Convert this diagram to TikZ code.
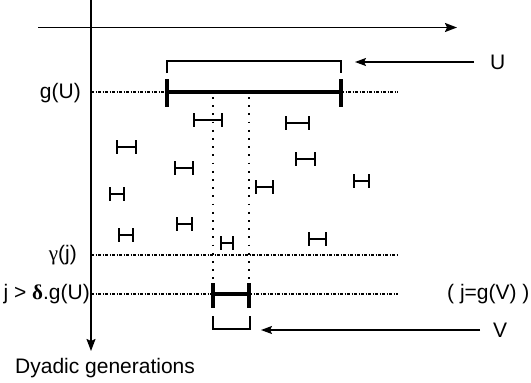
\documentclass[tikz,border=0pt]{standalone}
\usepackage{fontspec}
\setmainfont{Liberation Sans}
\newfontfamily\grkfont{Liberation Serif}
\usetikzlibrary{arrows.meta}
\newcommand\smallival[3]{%
  \draw[ivalline] (#1,#3-7) -- (#1,#3+7) (#1,#3) -- (#2,#3) (#2,#3-7) -- (#2,#3+7);}
\begin{document}
\begin{tikzpicture}[x=1pt,y=-1pt,
  lbl/.style={inner sep=0pt, font=\fontsize{21}{25}\selectfont},
  axisline/.style={line width=1.6pt},
  axishead/.style={-{Stealth[length=12pt,width=9pt,inset=2pt]}},
  ptrhead/.style={line width=1.6pt,-{Stealth[length=11pt,width=8pt,inset=2pt]}},
  dashdotline/.style={line width=1.2pt, dash pattern=on 3pt off 1.5pt on 1pt off 1.5pt},
  dotvline/.style={line width=1.8pt, dash pattern=on 1.8pt off 6.4pt},
  ivalline/.style={line width=2pt},
  bigival/.style={line width=4pt},
  bigtick/.style={line width=3.4pt},
  bracketline/.style={line width=1.4pt},
]
\useasboundingbox (0,0) rectangle (531,383);

% axes
\coordinate (vtop) at (91,0);
\coordinate (vbot) at (91,351);
\coordinate (hleft) at (38,27.5);
\coordinate (hright) at (457,27.5);
\draw[axisline,axishead] (vtop) -- (vbot);
\draw[axisline,axishead] (hleft) -- (hright);

% U interval
\coordinate (uL) at (167,92);
\coordinate (uR) at (341,92);
\draw[dashdotline] (91,92) -- (uL);
\draw[dashdotline] (uR) -- (398,92);
\draw[bigival] (uL) -- (uR);
\draw[bigtick] (167,79) -- (167,107);
\draw[bigtick] (341,79) -- (341,107);
\draw[bracketline] (167,73) -- (167,61) -- (341,61) -- (341,73);

% gamma line
\draw[dashdotline] (91,255) -- (398,255);

% V interval
\coordinate (vL) at (213,294);
\coordinate (vR) at (249,294);
\draw[dashdotline] (91,294) -- (vL);
\draw[dashdotline] (vR) -- (398,294);
\draw[bigival] (vL) -- (vR);
\draw[bigtick] (213,283) -- (213,308);
\draw[bigtick] (249,283) -- (249,308);
\draw[bracketline] (213,316) -- (213,329) -- (250,329) -- (250,316);

% dotted verticals
\draw[dotvline] (213,97) -- (213,283);
\draw[dotvline] (249,97) -- (249,283);

% small intervals
\smallival{194}{222}{120}
\smallival{286}{309}{123}
\smallival{117}{136}{147}
\smallival{175}{193}{168}
\smallival{110}{124}{194}
\smallival{177}{192}{224}
\smallival{119}{133}{235}
\smallival{221}{233}{243}
\smallival{256}{273}{187}
\smallival{296}{315}{159}
\smallival{354}{369}{181}
\smallival{309}{326}{239}

% pointers
\node[lbl,anchor=west] (Ulbl) at (490,62) {U};
\node[lbl,anchor=west] (Vlbl) at (493,330) {V};
\coordinate (Utip) at (355,62);
\coordinate (Vtip) at (261,330);
\draw[ptrhead] ([xshift=-16pt]Ulbl.west) -- (Utip);
\draw[ptrhead] ([xshift=-13pt]Vlbl.west) -- (Vtip);

% labels
\node[lbl,anchor=east] (gU) at (81,93) {g(U)};
\node[lbl,anchor=east] (gam) at (77,255) {{\grkfont γ}(j)};
\node[lbl,anchor=east] (jlbl) at (90,294) {j > {\grkfont\bfseries δ}.g(U)};
\node[lbl,anchor=west] (jgV) at (447,294) {( j=g(V) )};
\node[lbl,anchor=base west] (dy) at (15,373) {Dyadic generations};
\end{tikzpicture}
\end{document}
